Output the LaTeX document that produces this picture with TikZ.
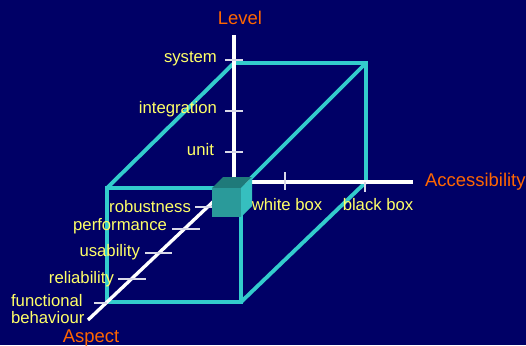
\documentclass[tikz,border=0pt]{standalone}
\usepackage{fontspec}
\setmainfont{Liberation Sans}
\usetikzlibrary{positioning}

\definecolor{navy}{HTML}{000066}
\definecolor{boxline}{HTML}{33CCCC}
\definecolor{labelyel}{HTML}{FFFF66}
\definecolor{axisorange}{HTML}{FF6600}
\definecolor{cubefront}{HTML}{2A9A9A}
\definecolor{cubetop}{HTML}{1F7A7A}
\definecolor{cubeside}{HTML}{36BFBF}

\begin{document}
\begin{tikzpicture}[x=0.02cm, y=-0.02cm,
    axis/.style={white, line width=1.9pt},
    edge/.style={boxline, line width=2.2pt, line join=miter},
    tick/.style={white!85!navy, line width=0.6pt},
    val/.style={text=labelyel, font=\fontsize{9.5}{9.8}\selectfont, inner sep=1pt},
    axname/.style={text=axisorange, font=\fontsize{10.5}{12}\selectfont, inner sep=1pt}]
  % background
  \fill[navy] (0,0) rectangle (526,345);
  \useasboundingbox (0,0) rectangle (526,345);

  % axes end points
  \coordinate (O) at (234,182);
  \coordinate (levelend) at (234,35);
  \coordinate (accend) at (413,182);
  \coordinate (aspend) at (88,320);

  % big box corners
  \coordinate (bTL) at (234,63);
  \coordinate (bTR) at (366,63);
  \coordinate (bBR) at (366,182);
  \coordinate (fTL) at (107,188);
  \coordinate (fTR) at (241,188);
  \coordinate (fBR) at (241,302);
  \coordinate (fBL) at (107,302);

  % big box
  \draw[edge] (fTL) -- (bTL) -- (bTR) -- (bBR) -- (fBR);
  \draw[edge] (bTR) -- (fTR);
  \draw[edge] (fTL) -- (fTR) -- (fBR) -- (fBL) -- cycle;

  % axes
  \draw[axis] (O) -- (levelend);
  \draw[axis] (O) -- (accend);
  \draw[axis] (O) -- (aspend);

  % ticks on Level
  \foreach \ty in {60,111,152}
    \draw[tick] (225,\ty) -- (243,\ty);
  % ticks on Accessibility
  \draw[tick] (285,172) -- (285,190);
  \draw[tick] (365,182) -- (365,192);
  % ticks on Aspect
  \draw[tick] (195,207) -- (213,207);
  \draw[tick] (172,229) -- (200,229);
  \draw[tick] (145,253) -- (172,253);
  \draw[tick] (118,279) -- (146,279);
  \draw[tick] (94,303) -- (107,303);

  % small cube
  \coordinate (cFL) at (212,188);
  \coordinate (cFR) at (241,188);
  \coordinate (cBR) at (241,217);
  \coordinate (cBL) at (212,217);
  \coordinate (cTL) at (223,177);
  \coordinate (cTR) at (252,177);
  \coordinate (cRB) at (252,206);
  \fill[cubetop] (cFL) -- (cTL) -- (cTR) -- (cFR) -- cycle;
  \fill[cubeside] (cFR) -- (cTR) -- (cRB) -- (cBR) -- cycle;
  \fill[cubefront] (cFL) rectangle (cBR);
  \draw[edge] (cBR) -- (fBR);

  % labels Level
  \node[val, anchor=east] (system) at (219,59) {system};
  \node[val, anchor=east] (integration) at (219,109) {integration};
  \node[val, anchor=east] (unit) at (216,150) {unit};

  % labels Accessibility
  \node[val] (whitebox) at (287,205) {white box};
  \node[val] (blackbox) at (378,205) {black box};

  % labels Aspect
  \node[val, anchor=east] (robust) at (193,207) {robustness};
  \node[val, anchor=east] (perf) at (169,226) {performance};
  \node[val, anchor=east] (usab) at (142,252) {usability};
  \node[val, anchor=east] (reliab) at (116,279) {reliability};
  \node[val, anchor=north west, align=left] (funct) at (9,292) {functional\\behaviour};

  % axis names
  \node[axname] (level) at (240,18) {Level};
  \node[axname, anchor=west] (access) at (423,182) {Accessibility};
  \node[axname] (aspect) at (91,338) {Aspect};
\end{tikzpicture}
\end{document}
